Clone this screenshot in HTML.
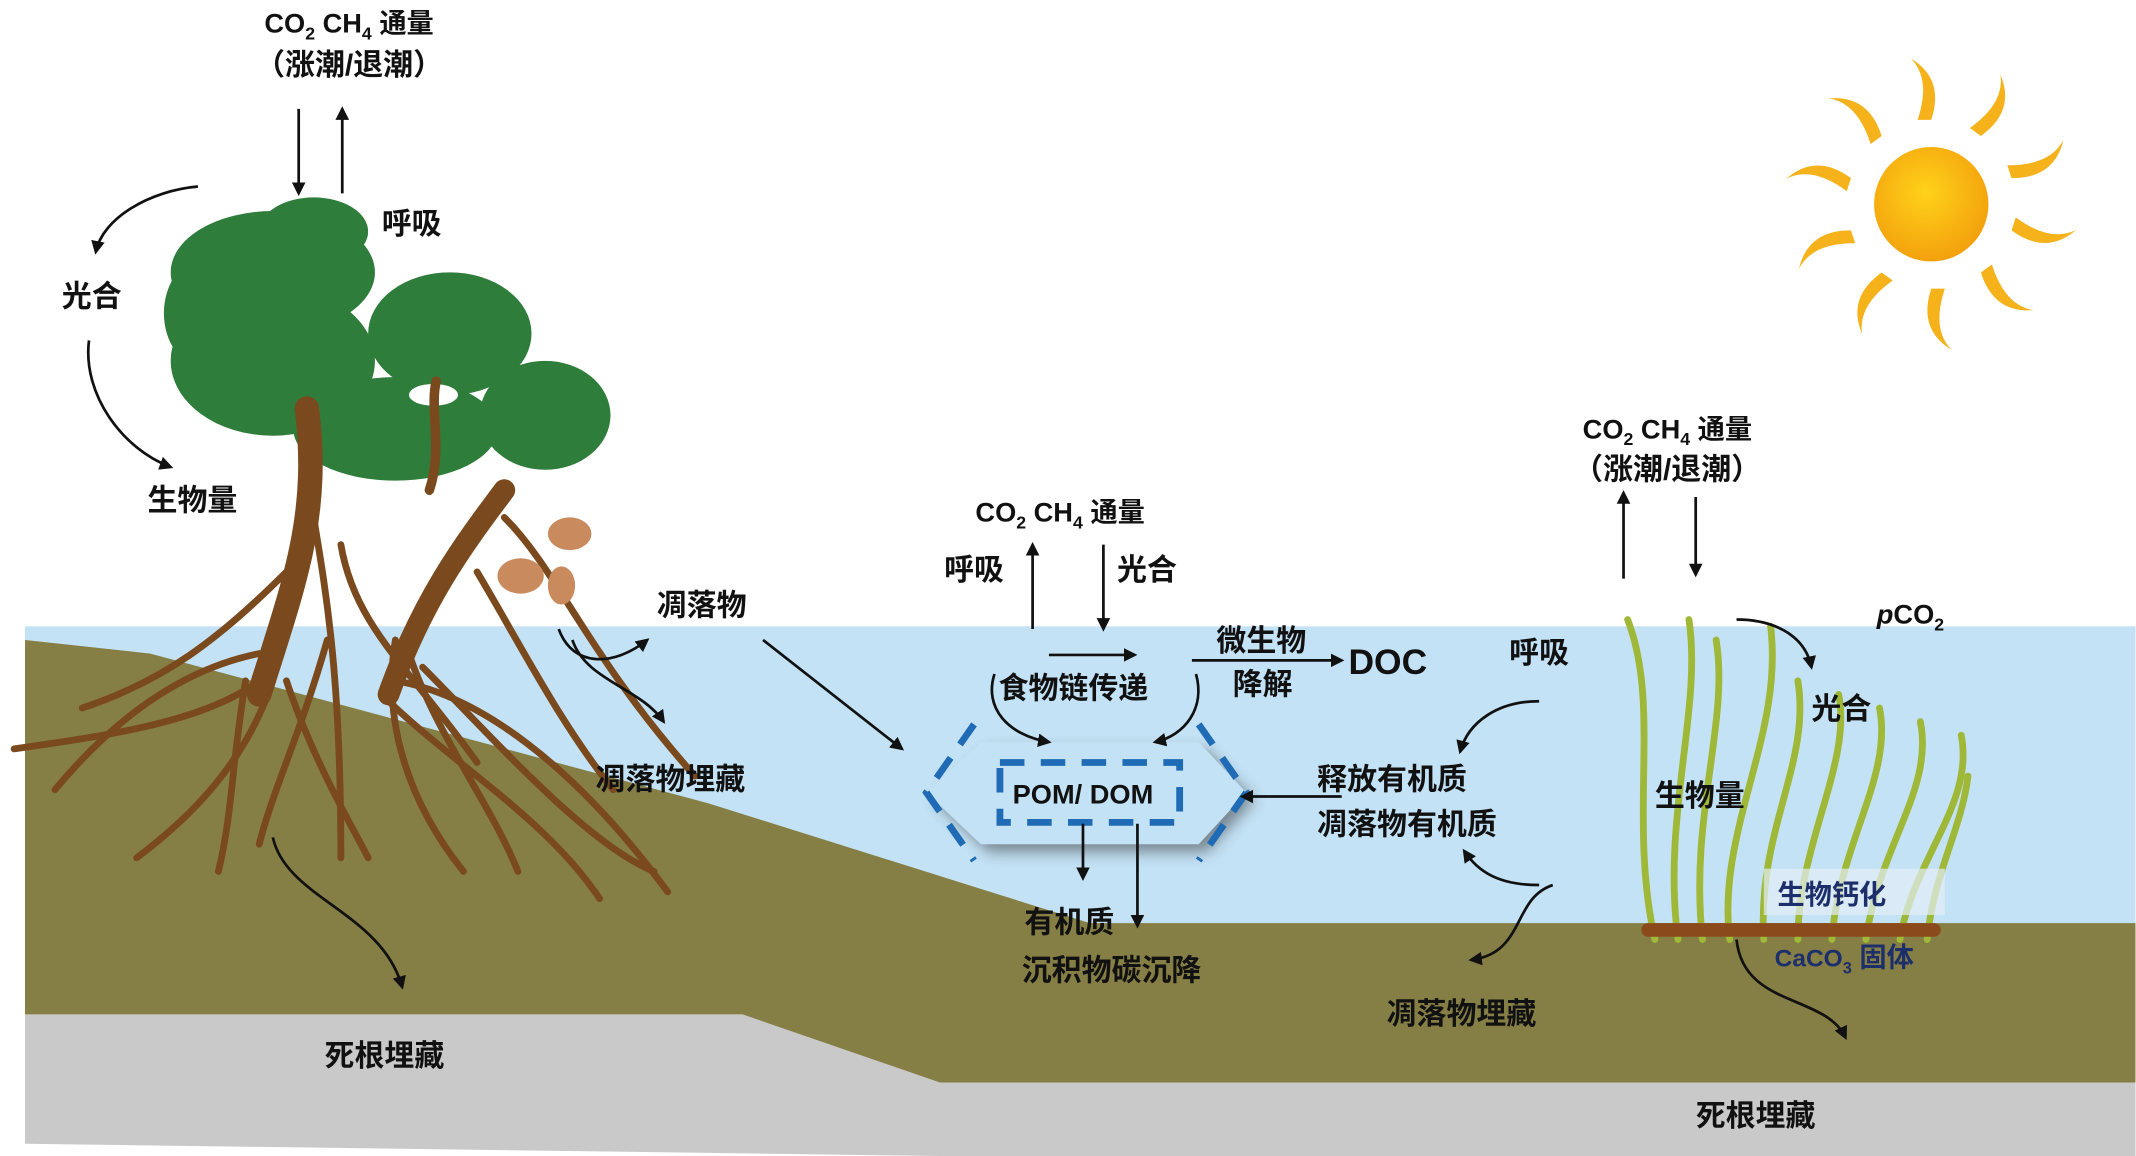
<!DOCTYPE html>
<html><head><meta charset="utf-8"><style>
html,body{margin:0;padding:0;background:#fff;}
svg{display:block;}
text{font-family:"Liberation Sans","Noto Sans CJK SC",sans-serif;font-weight:bold;fill:#111;}
</style></head><body>
<svg width="2136" height="1156" viewBox="0 0 1568 849" xmlns="http://www.w3.org/2000/svg">
<defs>
<marker id="a" viewBox="0 0 10 10" refX="8" refY="5" markerWidth="5" markerHeight="5" orient="auto-start-reverse"><path d="M0,0 L10,5 L0,10 z" fill="#111"/></marker>
<radialGradient id="sun" cx="0.45" cy="0.4" r="0.6"><stop offset="0" stop-color="#ffd21a"/><stop offset="1" stop-color="#f3a10c"/></radialGradient>
<filter id="sh" x="-20%" y="-20%" width="140%" height="160%"><feGaussianBlur stdDeviation="5"/></filter>
</defs>
<rect x="18" y="460" width="1550" height="225" fill="#c3e2f5"/>
<polygon points="18,745 545,745 690,790 1568,790 1568,849 960,849 690,849 18,840" fill="#c9c9c9"/>
<polygon points="18,470 110,480 520,590 800,678 1568,678 1568,795 690,795 545,745 18,745" fill="#867f45"/>
<g transform="translate(1418,150)">
<circle r="42" fill="url(#sun)"/>
<g fill="#f5b21a">
<path d="M-10,-62 q10,-30 -5,-45 q25,15 15,45 z"/>
<path d="M-10,-62 q10,-30 -5,-45 q25,15 15,45 z" transform="rotate(36)"/>
<path d="M-10,-62 q10,-30 -5,-45 q25,15 15,45 z" transform="rotate(72)"/>
<path d="M-10,-62 q10,-30 -5,-45 q25,15 15,45 z" transform="rotate(108)"/>
<path d="M-10,-62 q10,-30 -5,-45 q25,15 15,45 z" transform="rotate(144)"/>
<path d="M-10,-62 q10,-30 -5,-45 q25,15 15,45 z" transform="rotate(180)"/>
<path d="M-10,-62 q10,-30 -5,-45 q25,15 15,45 z" transform="rotate(216)"/>
<path d="M-10,-62 q10,-30 -5,-45 q25,15 15,45 z" transform="rotate(252)"/>
<path d="M-10,-62 q10,-30 -5,-45 q25,15 15,45 z" transform="rotate(288)"/>
<path d="M-10,-62 q10,-30 -5,-45 q25,15 15,45 z" transform="rotate(324)"/>
</g></g>
<g fill="#2f7d3a">
<ellipse cx="200" cy="200" rx="75" ry="45"/>
<ellipse cx="230" cy="170" rx="40" ry="25"/>
<ellipse cx="200" cy="265" rx="75" ry="55"/>
<ellipse cx="330" cy="245" rx="60" ry="45"/>
<ellipse cx="400" cy="305" rx="48" ry="40"/>
<ellipse cx="290" cy="315" rx="75" ry="38"/>
<ellipse cx="150" cy="230" rx="30" ry="40"/>
</g>
<ellipse cx="318" cy="290" rx="18" ry="8" fill="#fff"/>
<g stroke="#7a4a1e" fill="none" stroke-linecap="round">
<path d="M225,300 C235,380 215,430 190,510" stroke-width="18"/>
<path d="M370,360 C340,400 310,440 285,510" stroke-width="16"/>
<path d="M320,280 C315,300 325,330 315,360" stroke-width="7"/>
<g stroke-width="5">
<path d="M190,500 C150,530 80,540 10,550"/><path d="M200,500 C180,560 140,600 100,630"/>
<path d="M210,500 C230,560 260,610 270,630"/><path d="M280,510 C330,560 400,600 440,660"/>
<path d="M290,500 C350,510 420,560 490,655"/><path d="M370,380 C410,420 430,480 510,570"/>
<path d="M230,380 C240,440 250,500 250,630"/><path d="M210,420 C160,470 120,500 60,520"/>
<path d="M290,470 C280,530 300,590 340,640"/><path d="M180,500 C170,560 170,600 160,640"/>
<path d="M250,400 C260,460 300,490 350,560"/><path d="M350,420 C380,470 410,530 450,580"/>
<path d="M300,480 C320,540 360,590 380,640"/><path d="M190,480 C140,490 90,520 40,580"/>
<path d="M240,470 C220,540 200,580 190,620"/><path d="M310,490 C360,540 430,620 480,640"/>
</g></g>
<g fill="#c98a5e"><ellipse cx="418" cy="392" rx="16" ry="12"/><ellipse cx="382" cy="423" rx="17" ry="13"/><ellipse cx="412" cy="430" rx="10" ry="14"/></g>
<g stroke="#9fb837" stroke-width="5" fill="none" stroke-linecap="round">
<path d="M1215,690 C1195,600 1220,520 1195,455"/><path d="M1232,690 C1220,600 1250,520 1240,455"/>
<path d="M1250,690 C1240,600 1270,530 1260,470"/><path d="M1270,690 C1260,610 1310,540 1300,460"/>
<path d="M1295,690 C1290,610 1330,560 1320,500"/><path d="M1320,690 C1320,620 1360,560 1350,510"/>
<path d="M1345,690 C1350,620 1390,570 1380,520"/><path d="M1370,690 C1380,620 1420,580 1410,530"/>
<path d="M1395,690 C1405,630 1450,590 1440,540"/><path d="M1415,690 C1420,640 1440,610 1445,570"/>
</g>
<g fill="#8b4a1c"><rect x="1205" y="678" width="220" height="10" rx="5"/></g>
<polygon points="720,545 880,545 915,582 880,620 720,620 680,582" fill="#333" opacity="0.5" filter="url(#sh)" transform="translate(6,6)"/>
<polygon points="720,545 880,545 915,582 880,620 720,620 680,582" fill="#c3e2f5"/>
<g stroke="#1f6bb5" stroke-width="5" fill="none" stroke-dasharray="18,12">
<polyline points="715,532 680,582 715,632"/><polyline points="880,532 915,582 880,632"/>
<rect x="734" y="560" width="132" height="44"/>
</g>
<text x="795" y="590" font-size="20" text-anchor="middle">POM/ DOM</text>
<g stroke="#111" stroke-width="2" fill="none" marker-end="url(#a)">
<line x1="219" y1="80" x2="219" y2="142"/><line x1="251" y1="142" x2="251" y2="80"/>
<path d="M145,137 C110,140 75,160 70,185"/>
<path d="M65,250 C60,290 90,330 125,343"/>
<path d="M410,462 C420,490 450,490 475,470"/>
<path d="M420,470 C430,500 470,505 487,530"/>
<line x1="560" y1="470" x2="662" y2="550"/>
<line x1="758" y1="462" x2="758" y2="400"/><line x1="810" y1="400" x2="810" y2="462"/>
<line x1="770" y1="481" x2="833" y2="481"/>
<line x1="875" y1="485" x2="985" y2="485"/>
<path d="M730,495 C722,520 740,540 770,545"/>
<path d="M878,495 C885,520 870,540 848,545"/>
<line x1="795" y1="605" x2="795" y2="645"/><line x1="835" y1="605" x2="835" y2="680"/>
<line x1="985" y1="585" x2="912" y2="585"/>
<path d="M1130,515 C1100,515 1078,530 1072,552"/>
<path d="M1130,650 C1100,650 1085,640 1075,625"/>
<path d="M1140,650 C1110,660 1120,700 1080,705"/>
<path d="M200,615 C210,660 280,670 295,725"/>
<path d="M1275,690 C1280,740 1340,730 1355,762"/>
<line x1="1192" y1="425" x2="1192" y2="362"/><line x1="1245" y1="365" x2="1245" y2="422"/>
<path d="M1275,455 C1300,455 1325,465 1330,490"/>
</g>
<g font-size="22">
<text x="256" y="24" font-size="20" text-anchor="middle">CO<tspan font-size="13" dy="5">2</tspan><tspan dy="-5"> CH</tspan><tspan font-size="13" dy="5">4</tspan><tspan dy="-5"> 通量</tspan></text>
<text x="256" y="55" text-anchor="middle">（涨潮/退潮）</text>
<text x="280" y="172">呼吸</text>
<text x="45" y="225">光合</text>
<text x="108" y="375">生物量</text>
<text x="482" y="452">凋落物</text>
<text x="437" y="580">凋落物埋藏</text>
<text x="716" y="383" font-size="20">CO<tspan font-size="13" dy="5">2</tspan><tspan dy="-5"> CH</tspan><tspan font-size="13" dy="5">4</tspan><tspan dy="-5"> 通量</tspan></text>
<text x="693" y="426">呼吸</text><text x="820" y="426">光合</text>
<text x="733" y="513">食物链传递</text>
<text x="893" y="478">微生物</text><text x="905" y="510">降解</text>
<text x="990" y="495" font-size="26">DOC</text>
<text x="752" y="685">有机质</text><text x="750" y="720">沉积物碳沉降</text>
<text x="967" y="580">释放有机质</text><text x="967" y="613">凋落物有机质</text>
<text x="1108" y="487">呼吸</text>
<text x="1018" y="752">凋落物埋藏</text>
<text x="238" y="783">死根埋藏</text>
<text x="1245" y="827">死根埋藏</text>
<text x="1162" y="322" font-size="20">CO<tspan font-size="13" dy="5">2</tspan><tspan dy="-5"> CH</tspan><tspan font-size="13" dy="5">4</tspan><tspan dy="-5"> 通量</tspan></text>
<text x="1155" y="352">（涨潮/退潮）</text>
<text x="1378" y="458" font-size="20"><tspan font-style="italic">p</tspan>CO<tspan font-size="13" dy="5">2</tspan></text>
<text x="1330" y="528">光合</text>
<text x="1215" y="592">生物量</text>
</g>
<rect x="1295" y="638" width="133" height="34" fill="#e4eef6" opacity="0.7"/>
<text x="1305" y="664" font-size="20" style="fill:#1d2f6b">生物钙化</text>
<text x="1303" y="710" font-size="18" style="fill:#1d2f6b">CaCO<tspan font-size="12" dy="5">3</tspan><tspan dy="-5" font-size="20"> 固体</tspan></text>
</svg>
</body></html>
